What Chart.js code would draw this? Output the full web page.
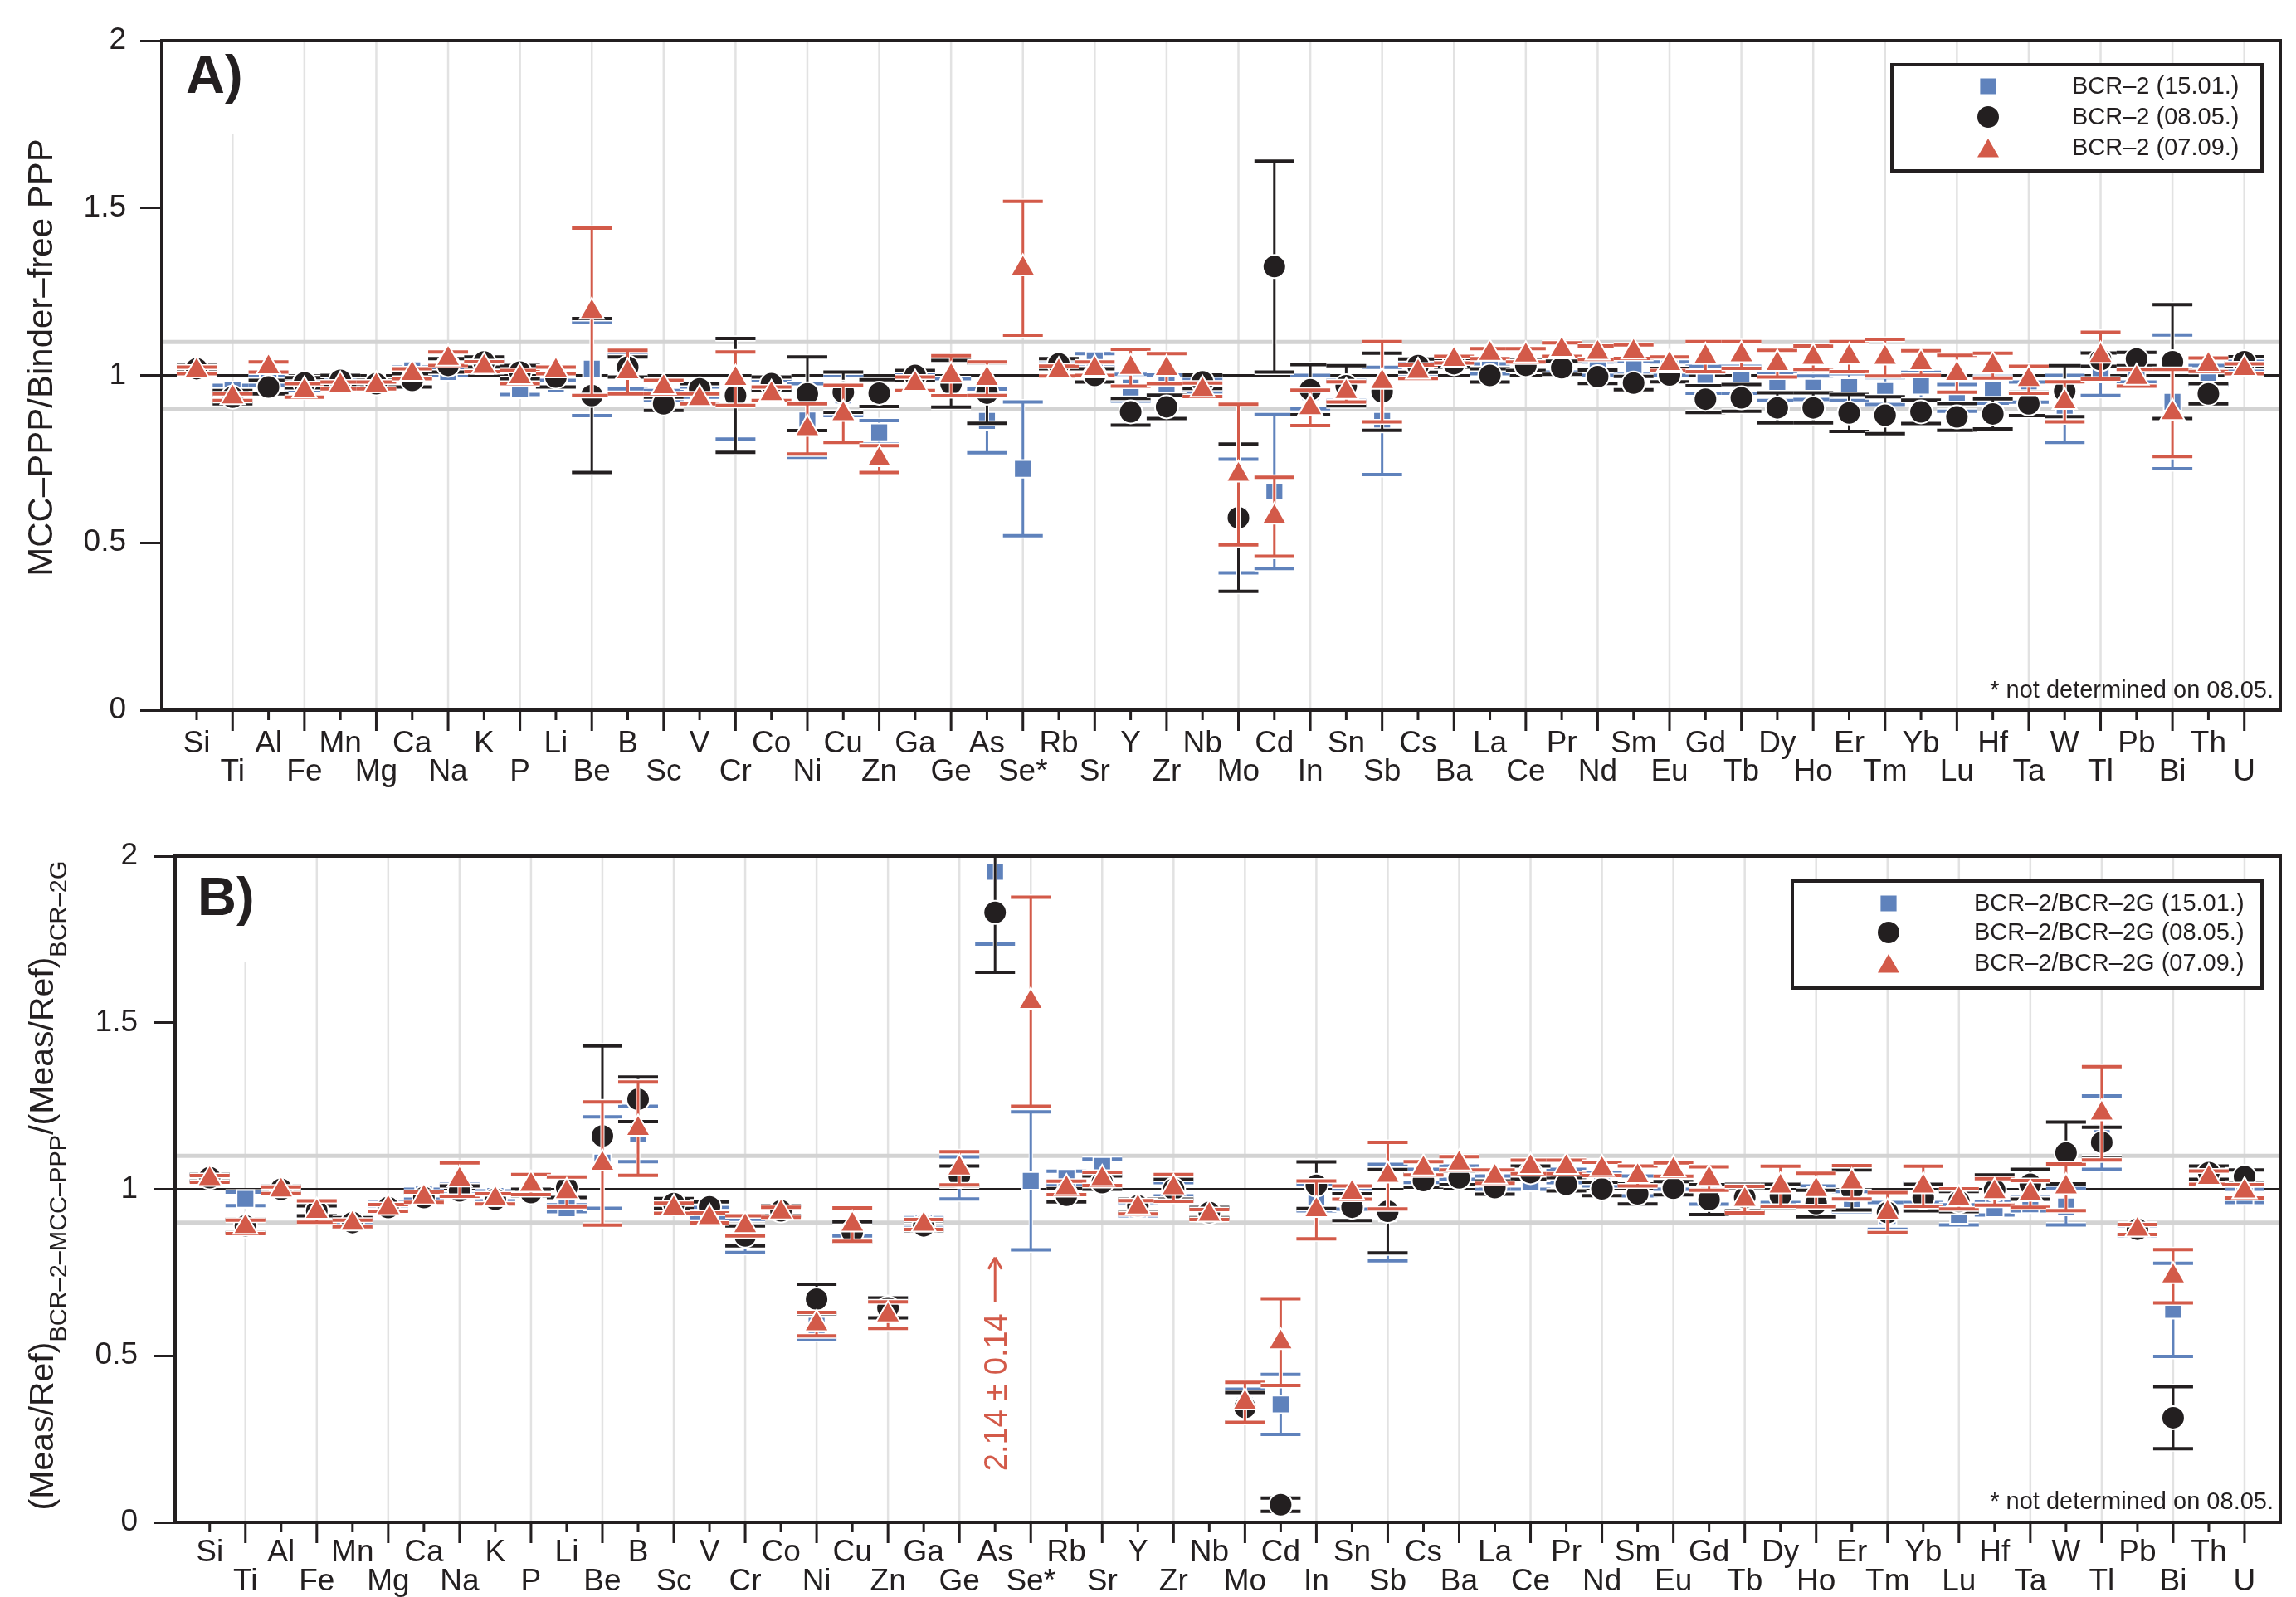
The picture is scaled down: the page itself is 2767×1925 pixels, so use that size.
<!DOCTYPE html>
<html>
<head>
<meta charset="utf-8">
<script src="https://cdn.jsdelivr.net/npm/chart.js@4/dist/chart.umd.min.js"></script>
<style>
  body { margin: 0; background: #fff; }
  canvas { display: block; }
</style>
</head>
<body>
<canvas id="chartA" width="2767" height="960"></canvas>
<canvas id="chartB" width="2767" height="965"></canvas>
<script>
const elements = ['Si','Ti','Al','Fe','Mn','Mg','Ca','Na','K','P','Li','Be','B','Sc','V','Cr','Co','Ni','Cu','Zn',
  'Ga','Ge','As','Se*','Rb','Sr','Y','Zr','Nb','Mo','Cd','In','Sn','Sb','Cs','Ba','La','Ce','Pr','Nd','Sm','Eu',
  'Gd','Tb','Dy','Ho','Er','Tm','Yb','Lu','Hf','Ta','W','Tl','Pb','Bi','Th','U']
const seriesDates = ['15.01.', '08.05.', '07.09.']
const bandLines = [0.9, 1.1]
const footNote = '* not determined on 08.05.'
const asNote = '2.14 \u00b1 0.14'

// panel A: MCC-PPP / binder-free PPP
const aBlue = [1.02,.955,.985,.97,.975,.975,1.015,1.01,1.03,.958,.975,1.02,1.01,.94,.95,.96,.97,.865,.94,.83,
  .995,.965,.864,.721,1.03,1.045,.963,.971,.97,.58,.653,.95,.955,.864,1.02,1.04,1.02,1.03,1.03,1.02,1.023,1.02,
  .987,.987,.965,.963,.965,.953,.969,.933,.957,.95,.9,1.005,1.0,.921,1.0,1.03]
const aBlueErr = [.01,.015,.015,.015,.01,.01,.01,.01,.015,.015,.01,.14,.05,.015,.015,.15,.015,.11,.06,.035,
  .01,.025,.095,.2,.015,.02,.04,.03,.02,.17,.23,.05,.03,.16,.02,.01,.015,.015,.02,.02,.02,.02,
  .04,.04,.04,.035,.04,.04,.04,.04,.04,.03,.1,.065,.02,.2,.03,.015]
const aBlack = [1.02,.935,.965,.978,.985,.975,.985,1.03,1.04,1.01,.995,.94,1.025,.915,.96,.94,.975,.945,.95,.947,
  1.0,.975,.947,null,1.035,1.0,.891,.906,.981,.575,1.325,.957,.969,.951,1.029,1.035,1.0,1.03,1.023,.996,.977,1.001,
  .929,.933,.903,.903,.888,.881,.891,.876,.885,.915,.953,1.047,1.049,1.041,.945,1.041]
const aBlackErr = [.01,.02,.02,.015,.015,.01,.02,.02,.015,.02,.03,.23,.03,.02,.015,.17,.02,.11,.06,.04,
  .015,.07,.09,0,.015,.02,.04,.035,.02,.22,.315,.075,.06,.115,.02,.01,.02,.015,.02,.02,.02,.02,
  .04,.04,.045,.045,.055,.055,.035,.04,.045,.035,.076,.02,.02,.17,.03,.015]
const aRed = [1.015,.935,1.025,.955,.97,.97,1.005,1.05,1.026,.995,1.015,1.19,1.01,.965,.93,.99,.945,.84,.885,.75,
  .975,.999,.99,1.32,1.013,1.02,1.023,1.02,.957,.704,.578,.903,.951,.981,1.011,1.047,1.065,1.06,1.077,1.068,1.071,1.035,
  1.056,1.061,1.035,1.053,1.056,1.053,1.037,1.005,1.029,.987,.921,1.059,.993,.888,1.032,1.02]
const aRedErr = [.01,.01,.015,.02,.01,.01,.015,.02,.015,.02,.01,.25,.065,.02,.015,.08,.02,.075,.085,.04,
  .02,.06,.05,.2,.015,.02,.055,.045,.02,.21,.118,.053,.03,.12,.02,.01,.015,.02,.02,.02,.02,.02,
  .045,.04,.04,.035,.045,.055,.037,.055,.037,.04,.06,.07,.025,.13,.02,.015]

// panel B: (Meas/Ref) BCR-2 MCC-PPP / (Meas/Ref) BCR-2G
const bBlue = [1.035,.971,1.0,.935,.905,.95,.985,1.0,.98,.99,.943,1.08,1.166,.95,.93,.86,.935,.59,.88,.645,
  .9,1.034,1.953,1.025,1.034,1.07,.94,1.0,.93,.35,.354,.975,.97,.93,1.04,1.05,1.02,1.02,1.04,1.03,1.01,1.02,
  .985,.97,.99,.98,.963,.92,.99,.923,.943,.955,.948,1.17,.875,.638,1.045,.98]
const bBlueErr = [.01,.02,.01,.015,.01,.01,.015,.015,.015,.01,.01,.137,.083,.015,.015,.05,.015,.04,.02,.03,
  .015,.063,.217,.207,.02,.02,.02,.02,.015,.05,.09,.04,.03,.145,.02,.02,.02,.02,.02,.02,.03,.02,
  .03,.04,.03,.03,.03,.04,.03,.03,.02,.02,.055,.11,.015,.14,.02,.02]
const bBlack = [1.035,.89,1.0,.935,.9,.945,.975,.995,.97,.99,1.005,1.16,1.27,.957,.947,.86,.935,.67,.872,.644,
  .89,1.04,1.831,null,.982,1.02,.95,1.0,.93,.345,.053,1.012,.946,.934,1.026,1.034,1.005,1.05,1.015,1.001,.986,1.003,
  .969,.975,.98,.957,.998,.93,.975,.963,.998,1.015,1.109,1.141,.88,.314,1.05,1.038]
const bBlackErr = [.01,.02,.01,.015,.015,.01,.015,.015,.015,.01,.03,.27,.067,.015,.015,.03,.015,.045,.03,.03,
  .015,.03,.18,0,.02,.02,.02,.03,.015,.045,.02,.07,.04,.125,.02,.02,.02,.02,.02,.02,.03,.02,
  .045,.04,.035,.04,.06,.06,.04,.03,.045,.045,.093,.045,.015,.093,.02,.02]
const bRed = [1.031,.887,.997,.933,.897,.944,.976,1.029,.971,1.014,.992,1.077,1.182,.943,.914,.89,.931,.595,.894,.622,
  .894,1.063,null,1.563,1.004,1.031,.946,1.004,.924,.36,.541,.938,.99,1.041,1.063,1.078,1.038,1.067,1.067,1.061,1.04,1.059,
  1.032,.969,1.009,.998,1.021,.93,1.009,.971,.992,.986,1.006,1.228,.879,.739,1.035,.994]
const bRedErr = [.01,.02,.01,.032,.01,.01,.015,.05,.015,.03,.045,.185,.14,.015,.015,.03,.015,.035,.05,.04,
  .015,.05,0,.314,.02,.02,.02,.04,.015,.06,.13,.087,.02,.1,.02,.02,.02,.02,.02,.02,.03,.02,
  .035,.04,.06,.05,.05,.06,.06,.03,.04,.04,.07,.14,.015,.08,.02,.02]

const FONT = "'Liberation Sans', Arial, Helvetica, sans-serif"
const INK = '#231f20'
const colors = ['#5f82bc', '#231f20', '#d35a49']
const styles = ['rect', 'circle', 'triangle']
const radii = [15, 14, 17]

function drawMarker(ctx, style, x, y, r, fill) {
  ctx.save()
  ctx.fillStyle = fill
  ctx.strokeStyle = '#fff'
  ctx.lineWidth = 2
  ctx.beginPath()
  if (style === 'rect') {
    const s = r * Math.SQRT1_2
    ctx.rect(x - s, y - s, 2 * s, 2 * s)
  } else if (style === 'circle') {
    ctx.arc(x, y, r, 0, Math.PI * 2)
  } else {
    for (let k = 0; k < 3; k++) {
      const a = k * 2 * Math.PI / 3
      const px = x + Math.sin(a) * r, py = y - Math.cos(a) * r
      if (k) ctx.lineTo(px, py); else ctx.moveTo(px, py)
    }
    ctx.closePath()
  }
  ctx.fill()
  ctx.stroke()
  ctx.restore()
}

function line(ctx, x0, y0, x1, y1) {
  ctx.beginPath()
  ctx.moveTo(x0, y0)
  ctx.lineTo(x1, y1)
  ctx.stroke()
}

const makeDecor = (p) => ({
  id: 'panelDecor',
  beforeDatasetsDraw: (chart) => {
    const {ctx, chartArea: a} = chart
    const {x, y} = chart.scales
    ctx.save()
    ctx.strokeStyle = '#e2e2e2'
    ctx.lineWidth = 2.5
    elements.forEach((el, i) => {
      if (i % 2) {
        const px = x.getPixelForValue(i)
        line(ctx, px, a.top, px, a.bottom)
      }
    })
    ctx.strokeStyle = '#d3d3d3'
    ctx.lineWidth = 5
    bandLines.forEach(v => line(ctx, a.left, y.getPixelForValue(v), a.right, y.getPixelForValue(v)))
    ctx.strokeStyle = INK
    ctx.lineWidth = 3
    line(ctx, a.left, y.getPixelForValue(1), a.right, y.getPixelForValue(1))

    // label box hides the grid behind the panel tag
    ctx.fillStyle = '#fff'
    ctx.fillRect(a.left + 2, a.top + 2, 125, p.boxBottom - a.top - 2)
    ctx.fillStyle = INK
    ctx.font = 'bold 65px ' + FONT
    ctx.textBaseline = 'alphabetic'
    ctx.fillText(p.tag, p.tagX, p.tagY)
    ctx.restore()
  },
  beforeDatasetDraw: (chart, args) => {
    const ds = chart.data.datasets[args.index]
    const {ctx, chartArea: a} = chart
    const {x, y} = chart.scales
    ctx.save()
    ctx.beginPath()
    ctx.rect(a.left, a.top, a.right - a.left, a.bottom - a.top)
    ctx.clip()
    ds.data.forEach(pt => {
      const px = x.getPixelForValue(pt.x)
      const lo = y.getPixelForValue(pt.y - pt.e)
      const hi = y.getPixelForValue(pt.y + pt.e)
      const w = 24
      ;[['#ffffff', 5, 7], [ds.backgroundColor, 3, 4]].forEach(([c, lw, cw]) => {
        ctx.strokeStyle = c
        ctx.lineWidth = lw
        line(ctx, px, lo, px, hi)
        ctx.lineWidth = cw
        line(ctx, px - w, lo, px + w, lo)
        line(ctx, px - w, hi, px + w, hi)
      })
    })
    ctx.restore()
  },
  afterDraw: (chart) => {
    const {ctx, chartArea: a} = chart
    const {x, y} = chart.scales
    ctx.save()
    ctx.strokeStyle = INK
    ctx.lineWidth = 4
    ctx.strokeRect(a.left, a.top, a.right - a.left, a.bottom - a.top)

    // element ticks and two-row labels
    ctx.lineWidth = 3
    ctx.fillStyle = INK
    ctx.font = '37px ' + FONT
    ctx.textAlign = 'center'
    ctx.textBaseline = 'alphabetic'
    elements.forEach((el, i) => {
      const px = x.getPixelForValue(i)
      line(ctx, px, a.bottom, px, a.bottom + (i % 2 ? 25 : 12))
      ctx.fillText(el, px, a.bottom + (i % 2 ? p.row2 : p.row1))
    })

    // legend
    const [lx, ly, lw, lh] = p.legendBox
    ctx.fillStyle = '#fff'
    ctx.fillRect(lx, ly, lw, lh)
    ctx.lineWidth = 4
    ctx.strokeRect(lx, ly, lw, lh)
    ctx.font = '29px ' + FONT
    ctx.textAlign = 'left'
    ctx.textBaseline = 'middle'
    chart.data.datasets.slice().sort((d1, d2) => d2.order - d1.order).forEach((ds, k) => {
      const ry = p.legendRows[k]
      const s = styles.indexOf(ds.pointStyle)
      drawMarker(ctx, ds.pointStyle, p.legendMarkerX, ry + (ds.pointStyle === 'triangle' ? 4 : 0), radii[s], ds.backgroundColor)
      ctx.fillStyle = INK
      ctx.fillText(ds.label, p.legendTextX, ry + 1)
    })

    // footnote
    ctx.font = '29px ' + FONT
    ctx.textAlign = 'right'
    ctx.textBaseline = 'alphabetic'
    ctx.fillText(footNote, a.right - 8, p.noteY)

    // y axis title, with subscripts
    ctx.translate(p.titleX, p.titleY)
    ctx.rotate(-Math.PI / 2)
    const fontOf = part => (part[1] ? p.subSize : p.mainSize) + 'px ' + FONT
    let total = 0
    p.title.forEach(part => { ctx.font = fontOf(part); total += ctx.measureText(part[0]).width })
    let cx = -total / 2
    ctx.textAlign = 'left'
    p.title.forEach(part => {
      ctx.font = fontOf(part)
      ctx.fillText(part[0], cx, part[1] ? p.subShift : 0)
      cx += ctx.measureText(part[0]).width
    })
    ctx.restore()

    if (p.asNote) {
      const px = x.getPixelForValue(elements.indexOf('As'))
      ctx.save()
      ctx.fillStyle = colors[2]
      ctx.strokeStyle = colors[2]
      ctx.translate(px + 14, y.getPixelForValue(0.154))
      ctx.rotate(-Math.PI / 2)
      ctx.font = '38px ' + FONT
      ctx.textBaseline = 'alphabetic'
      ctx.fillText(asNote, 0, 0)
      ctx.restore()
      ctx.save()
      ctx.strokeStyle = colors[2]
      ctx.lineWidth = 3
      const y0 = y.getPixelForValue(0.662), y1 = y.getPixelForValue(0.795)
      line(ctx, px, y0, px, y1)
      line(ctx, px - 8, y1 + 14, px, y1)
      line(ctx, px + 8, y1 + 14, px, y1)
      ctx.restore()
    }
  }
})

function buildChart(id, p, values, errors) {
  return new Chart(document.getElementById(id), {
    type: 'scatter',
    data: {
      datasets: [0, 1, 2].map(s => ({
        label: p.prefix + ' (' + seriesDates[s] + ')',
        data: values[s].map((v, i) => ({x: i, y: v, e: errors[s][i]})).filter(d => d.y !== null),
        pointStyle: styles[s],
        pointRadius: radii[s],
        pointHoverRadius: radii[s],
        backgroundColor: colors[s],
        borderColor: '#ffffff',
        pointBorderWidth: 2,
        order: 3 - s
      }))
    },
    options: {
      responsive: false,
      animation: false,
      devicePixelRatio: 1,
      events: [],
      layout: {padding: {top: p.padTop, right: 9, left: 0, bottom: 0}},
      plugins: {legend: {display: false}, tooltip: {enabled: false}},
      scales: {
        x: {
          type: 'linear', min: -0.97, max: 58,
          grid: {display: false}, ticks: {display: false}, border: {display: false},
          afterFit: s => { s.height = p.xHeight }
        },
        y: {
          min: 0, max: 2,
          ticks: {stepSize: 0.5, padding: p.yPad, color: INK, font: {family: FONT, size: 37}, callback: v => String(v)},
          grid: {drawOnChartArea: false, tickLength: 26, tickWidth: 3, tickColor: INK},
          border: {display: false},
          afterFit: s => { s.width = p.yWidth }
        }
      }
    },
    plugins: [makeDecor(p)]
  })
}

buildChart('chartA', {
  prefix: 'BCR\u20132', padTop: 49, xHeight: 104, yWidth: 195, yPad: 17,
  tag: 'A)', tagX: 224, tagY: 112, boxBottom: 162,
  row1: 51, row2: 85,
  legendBox: [2280, 78, 446, 128], legendRows: [104, 141, 178], legendMarkerX: 2396, legendTextX: 2497,
  noteY: 841,
  titleX: 63, titleY: 431, mainSize: 42, subSize: 29, subShift: 16,
  title: [['MCC\u2013PPP/Binder\u2013free PPP', false]],
  asNote: false
}, [aBlue, aBlack, aRed], [aBlueErr, aBlackErr, aRedErr])

buildChart('chartB', {
  prefix: 'BCR\u20132/BCR\u20132G', padTop: 72, xHeight: 90, yWidth: 211, yPad: 19,
  tag: 'B)', tagX: 238, tagY: 143, boxBottom: 200,
  row1: 47, row2: 82,
  legendBox: [2160, 102, 566, 129], legendRows: [129, 164, 201], legendMarkerX: 2276, legendTextX: 2379,
  noteY: 859,
  titleX: 64, titleY: 469, mainSize: 41, subSize: 29, subShift: 16,
  title: [['(Meas/Ref)', false], ['BCR\u20132\u2013MCC\u2013PPP', true], ['/(Meas/Ref)', false], ['BCR\u20132G', true]],
  asNote: true
}, [bBlue, bBlack, bRed], [bBlueErr, bBlackErr, bRedErr])
</script>
</body>
</html>
